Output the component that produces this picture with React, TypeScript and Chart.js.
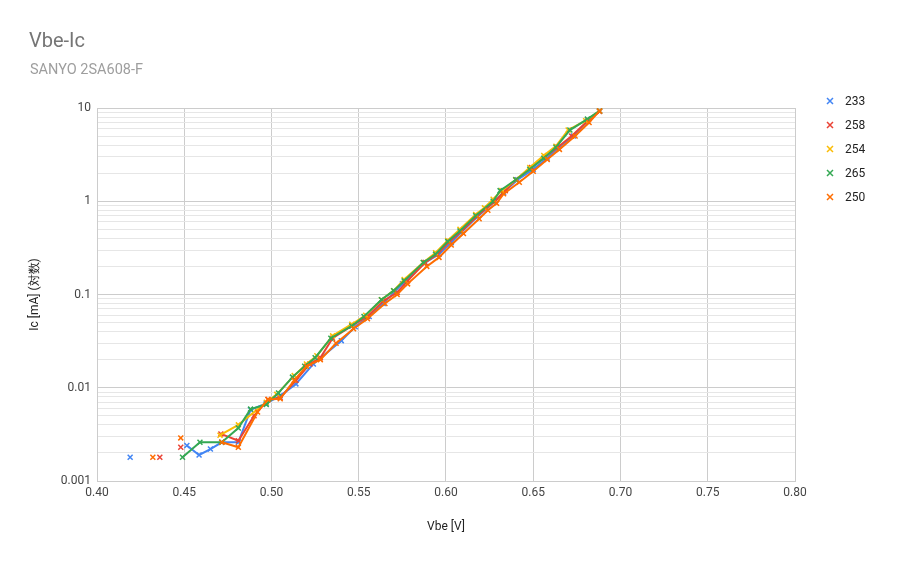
import React, { useEffect, useRef } from "react";
import { Chart, registerables } from "chart.js";
Chart.register(...registerables);

const chartTitle = "Vbe-Ic";
const chartSubtitle = "SANYO 2SA608-F";
const xTitle = "Vbe [V]";
const yTitle = "Ic [mA] (対数)";

const seriesNames = ["233", "258", "254", "265", "250"];
const seriesColors = ["#4285f4", "#ea4335", "#fbbc04", "#34a853", "#ff6d01"];

// null entries break the line (empty rows in the source sheet)
const vbe233 = [0.419, null, 0.4515, 0.4585, 0.465, 0.4715, 0.481, 0.488, 0.497, 0.505, 0.514, 0.524, 0.54, 0.548, 0.556, 0.564, 0.575, 0.588, 0.596, 0.603, 0.609, 0.618, 0.628, 0.633, 0.641, 0.65, 0.658, 0.664, 0.673, 0.681, 0.688];
const ic233 = [0.0018, null, 0.0024, 0.0019, 0.0022, 0.0026, 0.0026, 0.0058, 0.0068, 0.0082, 0.011, 0.018, 0.032, 0.045, 0.058, 0.08, 0.13, 0.22, 0.27, 0.36, 0.47, 0.68, 1.0, 1.25, 1.7, 2.2, 2.9, 3.7, 5.0, 7.2, 9.3];

const vbe258 = [0.436, null, 0.448, null, 0.471, 0.481, 0.49, 0.498, 0.505, 0.514, 0.522, 0.528, 0.535, 0.546, 0.555, 0.564, 0.572, 0.578, 0.588, 0.595, 0.602, 0.609, 0.618, 0.628, 0.634, 0.64, 0.649, 0.657, 0.664, 0.672, 0.681, 0.688];
const ic258 = [0.0018, null, 0.0023, null, 0.0032, 0.0027, 0.005, 0.0075, 0.0078, 0.012, 0.018, 0.021, 0.034, 0.046, 0.058, 0.085, 0.105, 0.14, 0.22, 0.27, 0.37, 0.48, 0.7, 1.0, 1.3, 1.7, 2.3, 3.0, 3.8, 5.0, 7.2, 9.2];

const vbe254 = [0.4705, 0.481, 0.497, 0.503, 0.513, 0.52, 0.526, 0.535, 0.546, 0.554, 0.563, 0.57, 0.576, 0.587, 0.594, 0.601, 0.608, 0.617, 0.622, 0.627, 0.632, 0.64, 0.648, 0.656, 0.663, 0.67, 0.68, 0.688];
const ic254 = [0.0031, 0.004, 0.007, 0.0085, 0.0135, 0.018, 0.022, 0.036, 0.048, 0.06, 0.088, 0.11, 0.145, 0.22, 0.28, 0.38, 0.5, 0.72, 0.85, 1.05, 1.3, 1.7, 2.3, 3.1, 3.9, 5.8, 7.3, 9.3];

const vbe265 = [0.449, 0.459, 0.4715, 0.481, 0.488, 0.497, 0.504, 0.512, 0.519, 0.525, 0.534, 0.546, 0.553, 0.563, 0.57, 0.576, 0.587, 0.594, 0.601, 0.608, 0.617, 0.627, 0.631, 0.64, 0.648, 0.656, 0.663, 0.671, 0.681, 0.688];
const ic265 = [0.0018, 0.0026, 0.0026, 0.0037, 0.0059, 0.0066, 0.0088, 0.013, 0.017, 0.021, 0.034, 0.046, 0.058, 0.088, 0.11, 0.14, 0.22, 0.27, 0.37, 0.48, 0.7, 1.0, 1.3, 1.7, 2.2, 2.9, 3.8, 5.8, 7.6, 9.3];

const vbe250 = [0.432, null, 0.448, null, 0.4715, 0.481, 0.492, 0.498, 0.505, 0.513, 0.52, 0.528, 0.537, 0.547, 0.555, 0.565, 0.572, 0.578, 0.589, 0.596, 0.603, 0.61, 0.619, 0.624, 0.629, 0.633, 0.642, 0.65, 0.658, 0.665, 0.674, 0.682, 0.688];
const ic250 = [0.0018, null, 0.0029, null, 0.0026, 0.0023, 0.0055, 0.0075, 0.0076, 0.012, 0.017, 0.02, 0.03, 0.043, 0.055, 0.08, 0.1, 0.13, 0.2, 0.25, 0.34, 0.45, 0.65, 0.8, 0.95, 1.2, 1.6, 2.1, 2.8, 3.6, 5.0, 7.0, 9.3];

const seriesVbe = [vbe233, vbe258, vbe254, vbe265, vbe250];
const seriesIc = [ic233, ic258, ic254, ic265, ic250];

const yTickValues = [
  0.001, 0.002, 0.003, 0.004, 0.005, 0.006, 0.007, 0.008, 0.009,
  0.01, 0.02, 0.03, 0.04, 0.05, 0.06, 0.07, 0.08, 0.09,
  0.1, 0.2, 0.3, 0.4, 0.5, 0.6, 0.7, 0.8, 0.9,
  1, 2, 3, 4, 5, 6, 7, 8, 9,
  10,
];
const yTickLabels = ["0.001", "0.01", "0.1", "1", "10"];

const FONT = "Roboto, 'Liberation Sans', Arial, sans-serif";

export default function App() {
  const ref = useRef<HTMLCanvasElement | null>(null);

  useEffect(() => {
    const canvas = ref.current;
    if (!canvas) return;

    const datasets = seriesNames.map((name, i) => ({
      label: name,
      data: seriesVbe[i].map((x, j) =>
        x === null ? { x: NaN, y: null } : { x, y: seriesIc[i][j] }
      ),
      borderColor: seriesColors[i],
      backgroundColor: seriesColors[i],
      pointBorderColor: seriesColors[i],
      pointStyle: "crossRot",
      pointRadius: 3.5,
      pointBorderWidth: 1.5,
      borderWidth: 2,
      showLine: true,
      spanGaps: false,
      tension: 0,
      order: seriesNames.length - i,
    }));

    const decorPlugin = {
      id: "decor",
      afterDraw(chart: any) {
        const ctx = chart.ctx;
        ctx.save();
        ctx.textBaseline = "alphabetic";
        ctx.textAlign = "left";
        ctx.fillStyle = "#757575";
        ctx.font = `20px ${FONT}`;
        ctx.fillText(chartTitle, 29, 47);
        ctx.fillStyle = "#9e9e9e";
        ctx.font = `14.5px ${FONT}`;
        ctx.fillText(chartSubtitle, 30, 74);
        // legend
        ctx.font = `12px ${FONT}`;
        ctx.textBaseline = "middle";
        seriesNames.forEach((name, i) => {
          const y = 101 + i * 24;
          const x = 830;
          ctx.strokeStyle = seriesColors[i];
          ctx.lineWidth = 1.5;
          ctx.beginPath();
          ctx.moveTo(x - 3, y - 3);
          ctx.lineTo(x + 3, y + 3);
          ctx.moveTo(x - 3, y + 3);
          ctx.lineTo(x + 3, y - 3);
          ctx.stroke();
          ctx.fillStyle = "#222222";
          ctx.fillText(name, 845, y + 1);
        });
        ctx.restore();
      },
    };

    const chart = new Chart(canvas, {
      type: "scatter",
      data: { datasets: datasets as any },
      plugins: [decorPlugin],
      options: {
        responsive: false,
        animation: false,
        layout: { padding: { left: 0, right: 113, top: 108, bottom: 0 } },
        plugins: {
          legend: { display: false },
          tooltip: { enabled: false },
          title: { display: false },
        },
        scales: {
          x: {
            type: "linear",
            min: 0.4,
            max: 0.8,
            afterFit: (s: any) => {
              s.height = 81;
            },
            ticks: {
              stepSize: 0.05,
              color: "#444444",
              font: { family: FONT, size: 12 },
              padding: 5,
              callback: (v: any) => Number(v).toFixed(2),
            },
            grid: { color: "#cccccc", lineWidth: 1, drawTicks: false },
            border: { color: "#cccccc" },
            title: {
              display: true,
              text: xTitle,
              color: "#222222",
              font: { family: FONT, size: 12 },
              padding: { top: 28, bottom: 28 },
            },
          },
          y: {
            type: "logarithmic",
            min: 0.001,
            max: 10,
            afterFit: (s: any) => {
              s.width = 97;
            },
            afterBuildTicks: (s: any) => {
              s.ticks = yTickValues.map((v) => ({ value: v }));
            },
            ticks: {
              autoSkip: false,
              color: "#444444",
              font: { family: FONT, size: 12 },
              padding: 6,
              callback: (v: any) => {
                const n = Number(v);
                const s = yTickLabels.find((t) => Math.abs(Number(t) - n) < n * 1e-6);
                return s ?? "";
              },
            },
            grid: {
              drawTicks: false,
              color: (c: any) => (c.tick && c.tick.label ? "#cccccc" : "#e6e6e6"),
              lineWidth: 1,
            },
            border: { color: "#cccccc" },
            title: {
              display: true,
              text: yTitle,
              color: "#222222",
              font: { family: FONT, size: 12 },
              padding: { top: 28, bottom: 0 },
            },
          },
        },
      } as any,
    });

    return () => chart.destroy();
  }, []);

  return (
    <div style={{ position: "fixed", left: 0, top: 0, width: 908, height: 562, background: "#ffffff" }}>
      <canvas ref={ref} width={908} height={562} style={{ width: 908, height: 562, display: "block" }} />
    </div>
  );
}
